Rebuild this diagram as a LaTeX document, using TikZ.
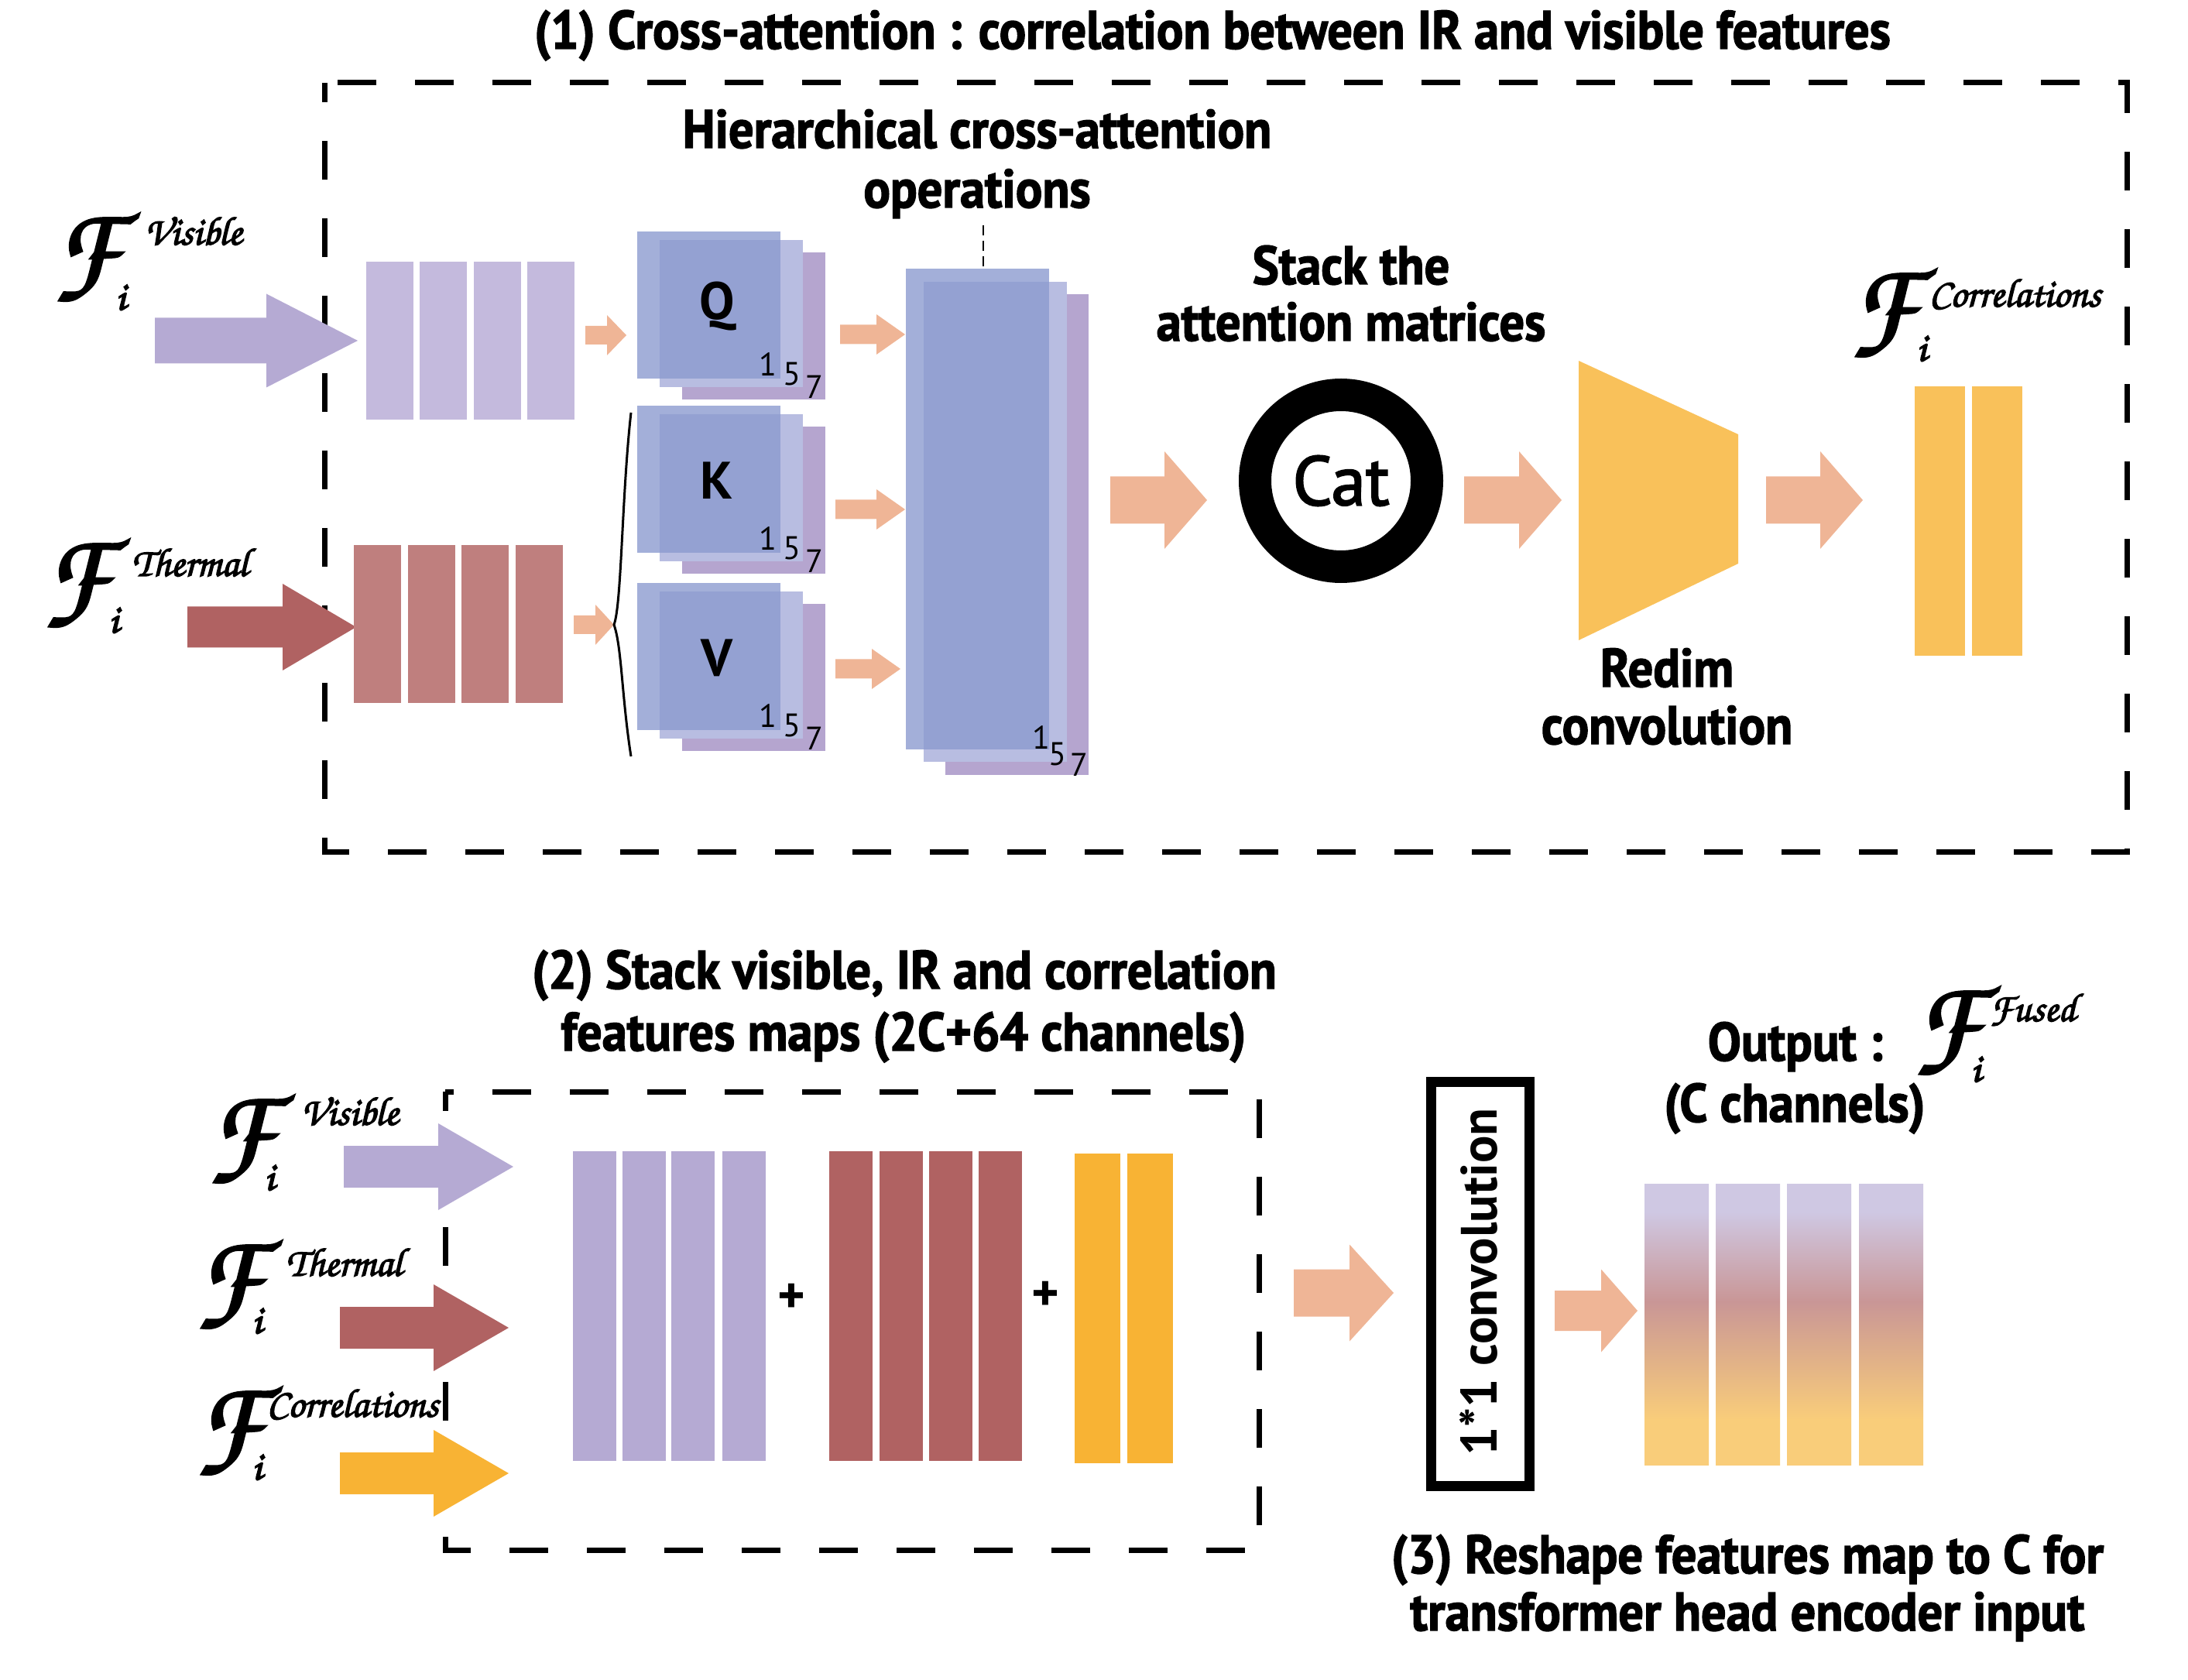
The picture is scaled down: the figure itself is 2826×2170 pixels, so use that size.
\documentclass[tikz,border=0pt]{standalone}
\usepackage{fontspec}
\setmainfont{PT Sans}
\newfontfamily\condsans{PT Sans}[FakeStretch=0.92]
\newcommand{\chanc}{\fontencoding{OT1}\fontfamily{pzc}\fontseries{mb}\fontshape{it}\selectfont}
% outline-stroked text for a heavier look
\newcommand{\heavy}[2]{\special{pdf:literal direct 2 Tr #1 w}#2\special{pdf:literal direct 0 Tr}}

\definecolor{visLight}{HTML}{C4BADD}
\definecolor{visColor}{HTML}{B5AAD3}
\definecolor{thermLight}{HTML}{BF7F7E}
\definecolor{thermColor}{HTML}{B06262}
\definecolor{salmon}{HTML}{EFB596}
\definecolor{corrLight}{HTML}{F9C15A}
\definecolor{corrColor}{HTML}{F8B334}
\definecolor{qkvBack}{HTML}{B5A5CF}
\definecolor{qkvMid}{HTML}{B8BDE1}
\definecolor{qkvFront}{HTML}{8C9BCF}
\definecolor{fuseL}{HTML}{CFC8E3}
\definecolor{fuseR}{HTML}{C99696}
\definecolor{fuseY}{HTML}{F9CD7A}

\pgfdeclareverticalshading{fusedgrad}{100bp}{color(0bp)=(fuseY); color(33bp)=(fuseY);
  color(54bp)=(fuseR); color(70bp)=(fuseL); color(100bp)=(fuseL)}

% fat arrow: x start, x tip, y mid, shaft half, head half, head start, colour
\newcommand{\fatarrow}[7]{\fill[#7] (#1,#3-#4) -- (#6,#3-#4) -- (#6,#3-#5) -- (#2,#3)
  -- (#6,#3+#5) -- (#6,#3+#4) -- (#1,#3+#4) -- cycle;}
% feature label F_i^word: name, F x, F y, word, word x, word y, i x, i y
\newcommand{\featlabel}[8]{\node[scriptF] (#1) at (#2-9,#3-8) {\heavy{0.9}{F}};
  \node[scriptW] (#1-w) at (#5,#6) {\heavy{0.35}{#4}};
  \node[scriptW] (#1-i) at (#7,#8) {\heavy{0.45}{i}};}

\begin{document}
\begin{tikzpicture}[x=0.25pt,y=-0.25pt,
	lbl/.style={font=\condsans\bfseries\fontsize{17.5}{21}\selectfont,inner sep=0pt,anchor=base,
		execute at begin node={\special{pdf:literal direct 2 Tr 0.35 w}},
		execute at end node={\special{pdf:literal direct 0 Tr}}},
	letter/.style={font=\bfseries\fontsize{17}{20}\selectfont,inner sep=0pt},
	digit/.style={font=\fontsize{10.5}{12}\selectfont,inner sep=0pt},
	scriptF/.style={font=\chanc\fontsize{38}{44}\selectfont,inner sep=0pt,anchor=base west},
	scriptW/.style={font=\chanc\fontsize{13}{15}\selectfont,inner sep=0pt,anchor=base west},
	dashbox/.style={draw,line width=1.75pt,dash pattern=on 12.5pt off 12.5pt,dash phase=6.25pt}]
	\useasboundingbox (0,0) rectangle (2826,2170);
	
	\draw[dashbox] (419,107) rectangle (2747,1100);
	\draw[dashbox] (575,1410) rectangle (1626,2002);
	
	% (1) cross-attention
	\node[lbl] (title1) at (1566,63) {(1) Cross-attention : correlation between IR and visible features};
	\featlabel{visTop}{76}{379}{Visible}{186}{316}{149}{400}
	\featlabel{thermTop}{63}{800}{Thermal}{170}{744}{140}{817}
	\fatarrow{200}{462}{440}{29.5}{60.5}{344}{visColor}
	\fatarrow{242}{460}{810}{26.5}{56}{365}{thermColor}
	\foreach \x in {473,542,612,681} \fill[visLight] (\x,338) rectangle ++(61,204);
	\foreach \x in {457,527,596,666} \fill[thermLight] (\x,704) rectangle ++(61,204);
	\fatarrow{756}{809}{433}{12}{26}{784}{salmon}
	\fatarrow{741}{793}{807}{12}{26}{769}{salmon}
	\draw[line width=0.75pt] (815,533) .. controls (803,640) and (803,780) .. (793,807)
		.. controls (803,835) and (803,900) .. (815,977);
	
	\foreach \n/\l/\y in {q/Q/299,k/K/524,v/V/753}{
		\fill[qkvBack] (881,\y+27) rectangle ++(185,190);
		\fill[qkvMid] (852,\y+11) rectangle ++(185,190);
		\fill[qkvFront,opacity=0.8] (823,\y) rectangle ++(185,190);
		\node[letter] (\n) at (926,\y+97) {\l};
		\node[digit] (\n-1) at (992,\y+172) {1};
		\node[digit] (\n-5) at (1023,\y+184) {5};
		\node[digit] (\n-7) at (1052,\y+201) {7};
	}
	\fatarrow{1085}{1169}{432}{12.5}{26}{1132}{salmon}
	\fatarrow{1079}{1169}{658}{12.5}{26}{1132}{salmon}
	\fatarrow{1079}{1163}{864}{12.5}{26}{1126}{salmon}
	
	\fill[qkvBack] (1221,380) rectangle (1406,1001);
	\fill[qkvMid] (1193,364) rectangle (1378,984);
	\fill[qkvFront,opacity=0.8] (1170,347) rectangle (1355,968);
	\node[digit] (big-1) at (1345,953) {1};
	\node[digit] (big-5) at (1366,974) {5};
	\node[digit] (big-7) at (1394,988) {7};
	\node[lbl] (hca1) at (1262,191) {Hierarchical cross-attention};
	\node[lbl] (hca2) at (1262,268) {operations};
	\coordinate (opsfoot) at (1270,291);
	\coordinate (bigtop) at (1270,347);
	\draw[line width=0.6pt,dash pattern=on 3.2pt off 1.8pt] (opsfoot) -- (bigtop);
	
	\fatarrow{1434}{1559}{646}{30.5}{63}{1504}{salmon}
	\node[lbl] (stk1) at (1745,367) {Stack the};
	\node[lbl] (stk2) at (1745,440) {attention matrices};
	\node[circle,draw=black,line width=10.5pt,minimum size=55.5pt,inner sep=0pt,
		font=\fontsize{22.5}{26}\selectfont] (cat) at (1732,621) {\heavy{0.5}{Cat}};
	\fatarrow{1891}{2017}{646}{30.5}{63}{1962}{salmon}
	\fill[corrLight] (2039,466) -- (2245,561) -- (2245,728) -- (2039,827) -- cycle;
	\node[lbl] (redim1) at (2153,887) {Redim};
	\node[lbl] (redim2) at (2153,961) {convolution};
	\fatarrow{2281}{2406}{646}{30.5}{63}{2351}{salmon}
	\foreach \x in {2473,2547} \fill[corrLight] (\x,499) rectangle ++(65,348);
	\featlabel{corrTop}{2397}{451}{Correlations}{2491}{396}{2475}{466}
	
	% (2) stacking
	\node[lbl] (title2a) at (1168,1277) {(2) Stack visible, IR and correlation};
	\node[lbl] (title2b) at (1167,1357) {features maps (2C+64 channels)};
	\featlabel{visBot}{276}{1518}{Visible}{388}{1453}{341}{1537}
	\featlabel{thermBot}{260}{1706}{Thermal}{369}{1648}{325}{1722}
	\featlabel{corrBot}{260}{1895}{Correlations}{344}{1830}{325}{1911}
	\fatarrow{444}{663}{1507}{27}{56}{566}{visColor}
	\fatarrow{439}{657}{1715}{27}{56}{560}{thermColor}
	\fatarrow{439}{657}{1903}{27}{56}{560}{corrColor}
	\foreach \x in {740,804,867,933} \fill[visColor] (\x,1487) rectangle ++(56,400);
	\foreach \x in {1071,1136,1200,1264} \fill[thermColor] (\x,1487) rectangle ++(56,400);
	\foreach \x in {1388,1456} \fill[corrColor] (\x,1490) rectangle ++(59,400);
	\node[letter] (plus1) at (1022,1677) {+};
	\node[letter] (plus2) at (1350,1674) {+};
	
	% (3) reshape
	\fatarrow{1671}{1800}{1670}{30.5}{62.5}{1743}{salmon}
	\draw[line width=3.25pt,fill=white] (1848,1397) rectangle (1975,1919);
	\node[letter,font=\bfseries\fontsize{16.5}{20}\selectfont,rotate=90,anchor=base] (conv) at (1933,1656) {1*1 convolution};
	\fatarrow{2008}{2115}{1693}{26}{53.5}{2068}{salmon}
	\foreach \x in {2124,2216,2308,2401} \shade[shading=fusedgrad] (\x,1529) rectangle ++(83,363);
	\node[lbl,anchor=base west] (out) at (2205,1370) {Output :};
	\featlabel{fused}{2479}{1378}{Fused}{2569}{1319}{2545}{1397}
	\node[lbl] (cch) at (2318,1449) {(C channels)};
	\node[lbl] (title3a) at (2257,2032) {(3) Reshape features map to C for};
	\node[lbl] (title3b) at (2257,2106) {transformer head encoder input};
\end{tikzpicture}
\end{document}
